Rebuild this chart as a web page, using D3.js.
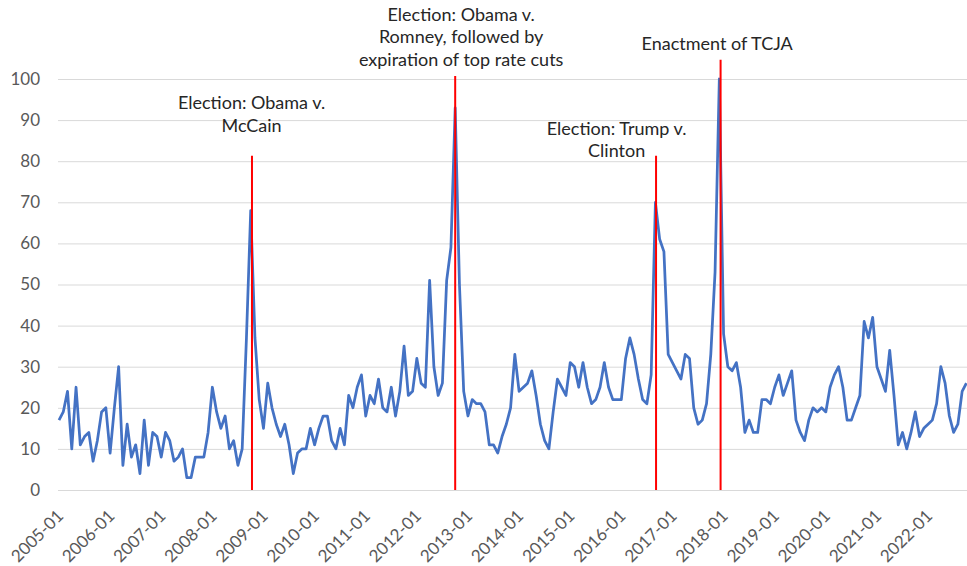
<!DOCTYPE html>
<html><head><meta charset="utf-8">
<script src="https://cdn.jsdelivr.net/npm/d3@7"></script>
<style>
body{margin:0;background:#fff}
text{font-family:Lato,"Open Sans",sans-serif}
</style>
</head><body>
<svg id="chart" width="967" height="566"></svg>
<script>
// ---- data ----
const firstMonth = "2005-01";
const values = [
17,19,24,10,25,11,13,14,7,12,19,20,
9,20,30,6,16,8,11,4,17,6,14,13,
8,14,12,7,8,10,3,3,8,8,8,14,
25,19,15,18,10,12,6,10,37,68,37,22,
15,26,20,16,13,16,11,4,9,10,10,15,
11,15,18,18,12,10,15,11,23,20,25,28,
18,23,21,27,20,19,25,18,24,35,23,24,
32,26,25,51,30,23,26,51,59,93,50,24,
18,22,21,21,19,11,11,9,13,16,20,33,
24,25,26,29,23,16,12,10,19,27,25,23,
31,30,25,31,25,21,22,25,31,25,22,22,
22,32,37,33,27,22,21,28,70,61,58,33,
31,29,27,33,32,20,16,17,21,33,53,100,
38,30,29,31,25,14,17,14,14,22,22,21,
25,28,23,26,29,17,14,12,17,20,19,20,
19,25,28,30,25,17,17,20,23,41,37,42,
30,27,24,34,23,11,14,10,14,19,13,15,
16,17,21,30,26,18,14,16,24,26
];
const yTicks = [0,10,20,30,40,50,60,70,80,90,100];
const xTickLabels = ["2005-01","2006-01","2007-01","2008-01","2009-01","2010-01","2011-01","2012-01","2013-01","2014-01","2015-01","2016-01","2017-01","2018-01","2019-01","2020-01","2021-01","2022-01"];
const markerMonths = ["2008-10","2012-10","2016-09","2017-12"];
const markerShift  = [0.3, 0, 0.15, 0.3];       // fraction of a month step
const markerTops   = [81.3, 100.7, 81.3, 104.7];
const annotationLines = [
  ["Election: Obama v.","McCain"],
  ["Election: Obama v.","Romney, followed by","expiration of top rate cuts"],
  ["Election: Trump v.","Clinton"],
  ["Enactment of TCJA"]
];
const annotationShift = [0.2, 1.4, -9.1, -0.5];  // months from marker
const annotationTop   = [92.7, 114.2, 86.4, 107.1]; // first baseline, value units

// ---- build ----
const fmt = d3.timeFormat("%Y-%m");
const start = d3.timeParse("%Y-%m")(firstMonth);
const categories = values.map((v,i)=>fmt(d3.timeMonth.offset(start,i)));
const data = categories.map((c,i)=>({c, v: values[i]}));

const W = 967, H = 566;
const svg = d3.select("#chart");
svg.append("rect").attr("width",W).attr("height",H).attr("fill","#fff");

const x = d3.scalePoint().domain(categories).range([59, 966.4]);
const y = d3.scaleLinear().domain([0,100]).range([490,79]);
const step = x.step();

// y axis with gridlines
const gy = svg.append("g").attr("transform","translate(58,0)")
  .call(d3.axisLeft(y).tickValues(yTicks).tickSize(-(W-58)).tickPadding(18));
gy.select(".domain").remove();
gy.selectAll(".tick line").attr("stroke","#d9d9d9").attr("stroke-width",1);
gy.selectAll(".tick text").attr("fill","#595959").attr("font-size","17px")
  .style("font-family","Lato,'Open Sans',sans-serif");

// x axis labels
const gx = svg.append("g").attr("transform","translate(0,490)")
  .call(d3.axisBottom(x).tickValues(xTickLabels).tickSize(0));
gx.select(".domain").remove();
gx.selectAll(".tick text")
  .attr("x",0).attr("y",0).attr("dy",0)
  .attr("text-anchor","end")
  .attr("transform","translate(5,27) rotate(-45)")
  .attr("fill","#595959").attr("font-size","17px")
  .style("font-family","Lato,'Open Sans',sans-serif");

// line
const line = d3.line().x(d=>x(d.c)).y(d=>y(d.v));
svg.append("path").datum(data)
  .attr("fill","none").attr("stroke","#4472C4").attr("stroke-width",2.75)
  .attr("stroke-linejoin","round").attr("d",line);

// markers
markerMonths.forEach((m,i)=>{
  const mx = x(m) + markerShift[i]*step;
  svg.append("line").attr("x1",mx).attr("x2",mx)
    .attr("y1",y(markerTops[i])).attr("y2",y(0))
    .attr("stroke","#FF0000").attr("stroke-width",2);
});

// annotations
annotationLines.forEach((lines,i)=>{
  const cx = x(markerMonths[i]) + annotationShift[i]*step;
  const t = svg.append("text").attr("text-anchor","middle")
    .attr("fill","#262626").attr("font-size","18px");
  lines.forEach((s,j)=>{
    t.append("tspan").attr("x",cx).attr("y",y(annotationTop[i]) + j*22.5).text(s);
  });
});
</script>
</body></html>
